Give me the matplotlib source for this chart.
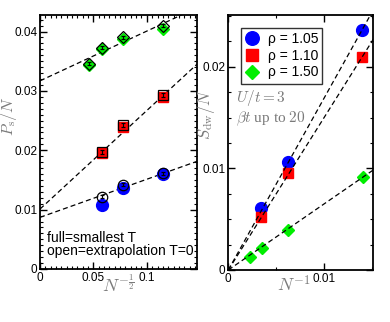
import matplotlib
matplotlib.use('Agg')
import matplotlib.pyplot as plt
from matplotlib.ticker import MultipleLocator
import numpy as np

plt.rcParams['font.family'] = ['Liberation Sans', 'DejaVu Sans']
plt.rcParams['mathtext.fontset'] = 'cm'

# left panel: P_s/N vs N^(-1/2)
x_blue_l = [0.0577, 0.0773, 0.1147]
blue_full = [0.0108, 0.0136, 0.0160]
blue_open = [0.0122, 0.0142, 0.0161]

x_red_l = [0.0577, 0.0773, 0.1147]
red_full = [0.0195, 0.0240, 0.0290]
red_open = [0.0197, 0.0243, 0.0293]

x_green_l = [0.0455, 0.0577, 0.0773, 0.1147]
green_full = [0.0344, 0.0370, 0.0387, 0.0405]
green_open = [0.0346, 0.0373, 0.0390, 0.0410]

open_err = 0.0003

# fitted lines (intercept, slope)
fit_blue_l = (0.0087, 0.0642)
fit_red_l = (0.0101, 0.166)
fit_green_l = (0.0317, 0.0838)

# right panel: S_dw/N vs N^-1
x_blue_r = [0.0034, 0.00626, 0.01396]
blue_r = [0.00607, 0.01065, 0.02367]
x_red_r = [0.0034, 0.00626, 0.01396]
red_r = [0.00524, 0.0095, 0.0210]
x_green_r = [0.00226, 0.0035, 0.00625, 0.01406]
green_r = [0.0013, 0.00213, 0.00393, 0.00917]

slope_blue_r = 1.696
slope_red_r = 1.504
slope_green_r = 0.652

legend_labels = ['ρ = 1.05', 'ρ = 1.10', 'ρ = 1.50']

BLUE = '#0000ff'
RED = '#ff0000'
GREEN = '#00ee00'
GREY = '#7a7a7a'
DASH = (0, (4, 2.5))

fig = plt.figure(figsize=(3.9, 3.22), dpi=100)
ax1 = fig.add_axes([0.1026, 0.1646, 0.4026, 0.789])
ax2 = fig.add_axes([0.5854, 0.1615, 0.3718, 0.792])

# ---- left panel
xx = np.array([0, 0.147])
for b, m in [fit_blue_l, fit_red_l, fit_green_l]:
    ax1.plot(xx, b + m * xx, color='black', ls=DASH, lw=0.9, zorder=1)

ax1.plot(x_blue_l, blue_full, 'o', color=BLUE, ms=8.5, mec=BLUE, zorder=2)
ax1.plot(x_red_l, red_full, 's', color=RED, ms=7.5, mec=RED, zorder=2)
ax1.plot(x_green_l, green_full, 'D', color=GREEN, ms=6.5, mec=GREEN, zorder=2)

ax1.errorbar(x_blue_l, blue_open, yerr=open_err, fmt='o', mfc='none', mec='black',
             ecolor='black', ms=7.5, mew=0.9, elinewidth=0.8, capsize=1.5, zorder=3)
ax1.errorbar(x_red_l, red_open, yerr=open_err, fmt='s', mfc='none', mec='black',
             ecolor='black', ms=7, mew=0.9, elinewidth=0.8, capsize=1.5, zorder=3)
ax1.errorbar(x_green_l, green_open, yerr=open_err, fmt='D', mfc='none', mec='black',
             ecolor='black', ms=6.5, mew=0.9, elinewidth=0.8, capsize=1.5, zorder=3)

ax1.set_xlim(0, 0.147)
ax1.set_ylim(0, 0.0428)
ax1.set_xticks([0, 0.05, 0.1])
ax1.set_xticklabels(['0', '0.05', '0.1'])
ax1.xaxis.set_minor_locator(MultipleLocator(0.005))
ax1.set_yticks([0, 0.01, 0.02, 0.03, 0.04])
ax1.set_yticklabels(['0', '0.01', '0.02', '0.03', '0.04'])
ax1.yaxis.set_minor_locator(MultipleLocator(0.001))

ax1.text(0.0063, 0.0046, 'full=smallest T', fontsize=10)
ax1.text(0.0063, 0.0024, 'open=extrapolation T=0', fontsize=10)

ax1.set_ylabel(r'$P_{\rm s}/N$', color=GREY, fontsize=11.5)
ax1.yaxis.set_label_coords(-0.135, 0.6)
ax1.set_xlabel(r'$N^{-\frac{1}{2}}$', color=GREY, fontsize=13)
ax1.xaxis.set_label_coords(0.5, -0.02)

# ---- right panel
xr = np.array([0, 0.0151])
for m in [slope_blue_r, slope_red_r, slope_green_r]:
    ax2.plot(xr, m * xr, color='black', ls=DASH, lw=0.9, zorder=3)

ax2.plot(x_blue_r, blue_r, 'o', color=BLUE, ms=8.5, label=legend_labels[0], zorder=2)
ax2.plot(x_red_r, red_r, 's', color=RED, ms=7.5, label=legend_labels[1], zorder=2)
ax2.plot(x_green_r, green_r, 'D', color=GREEN, ms=6.5, label=legend_labels[2], zorder=2)

ax2.set_xlim(0, 0.0151)
ax2.set_ylim(0, 0.0251)
ax2.set_xticks([0, 0.01])
ax2.set_xticklabels(['0', '0.01'])
ax2.xaxis.set_minor_locator(MultipleLocator(0.005))
ax2.set_yticks([0, 0.01, 0.02])
ax2.set_yticklabels(['0', '0.01', '0.02'])
ax2.yaxis.set_minor_locator(MultipleLocator(0.0025))

leg = ax2.legend(loc='upper left', bbox_to_anchor=(0.09, 0.95), fontsize=10,
                 frameon=True, fancybox=False, edgecolor='black', handlelength=1.0,
                 handletextpad=0.6, borderpad=0.3, labelspacing=0.2, borderaxespad=0,
                 markerscale=1.15)
leg.get_frame().set_linewidth(1.0)

ax2.text(0.00085, 0.0165, r'$U/t = 3$', color=GREY, fontsize=11)
ax2.text(0.00085, 0.0145, r'$\beta t$ up to $20$', color=GREY, fontsize=11,
         family='Liberation Serif')

ax2.set_ylabel(r'$S_{\rm dw}/N$', color=GREY, fontsize=12)
ax2.yaxis.set_label_coords(-0.075, 0.61)
ax2.set_xlabel(r'$N^{-1}$', color=GREY, fontsize=13)
ax2.xaxis.set_label_coords(0.45, -0.02)

for ax in (ax1, ax2):
    ax.tick_params(which='both', direction='in', top=True, right=True, labelsize=8.5, pad=2)
    ax.tick_params(which='major', length=5, width=1)
    ax.tick_params(which='minor', length=2.5, width=0.8)
    for s in ax.spines.values():
        s.set_linewidth(1.3)

fig.savefig('out.png', dpi=100)
